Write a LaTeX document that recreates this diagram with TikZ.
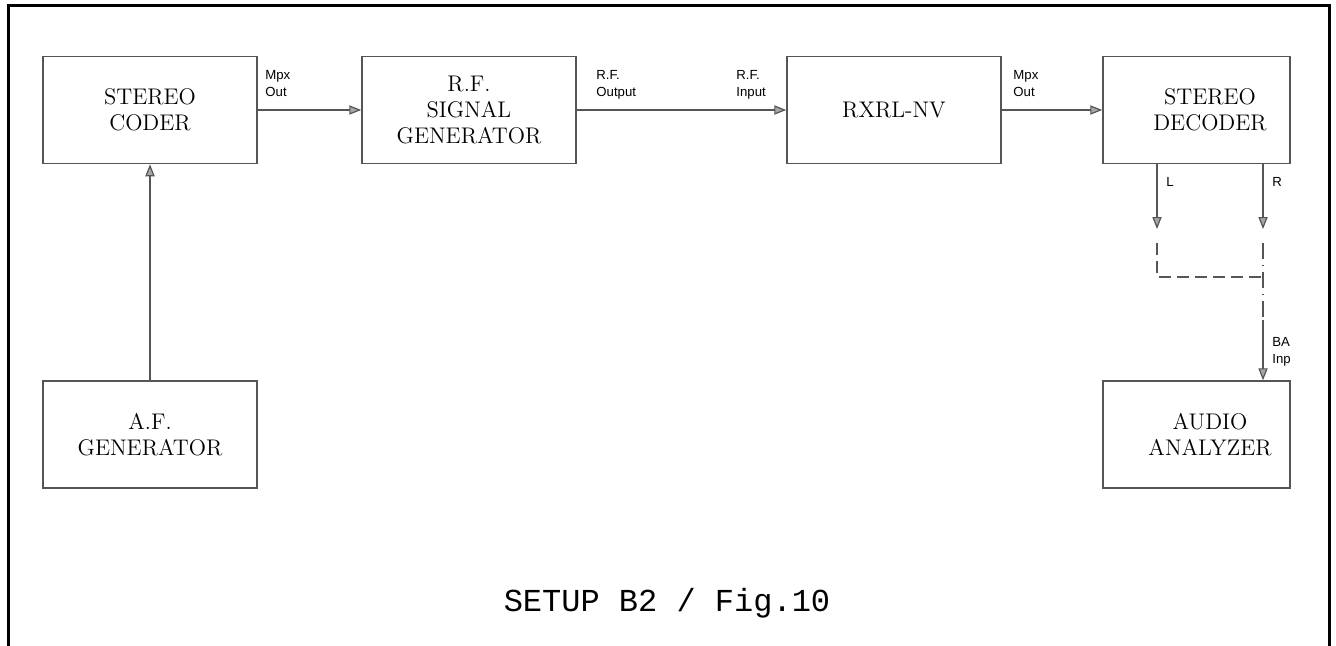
\documentclass[tikz,border=0pt]{standalone}
\usepackage{fontspec}
\newfontfamily\labelfont{Liberation Sans}
\newfontfamily\titlefont{Liberation Mono}
\usetikzlibrary{arrows.meta,positioning,calc}
\definecolor{wiregray}{RGB}{85,85,85}
\begin{document}
\begin{tikzpicture}[x=0.5pt,y=-0.5pt,
 unit/.style={draw=wiregray,line width=0.75pt,minimum width=107pt,minimum height=53.5pt,inner sep=0pt,align=center,font=\fontsize{11.3}{12.8}\selectfont},
 sig/.style={draw=wiregray,line width=0.6pt,-{Triangle[length=6pt,width=4.6pt,fill=gray!70]}},
 wire/.style={draw=wiregray,line width=0.6pt},
 tag/.style={inner sep=0pt,align=left,font=\labelfont\fontsize{6.6}{8.5}\selectfont},
 frame/.style={line width=1.5pt}
]
\useasboundingbox (0,0) rectangle (1336,645);
\draw[frame] (8,660) -- (8,5) -- (1329,5) -- (1329,660);
\node[unit] (coder) at (150,110) {STEREO\\CODER};
\node[unit] (rfgen) at (469,110) {R.F.\\SIGNAL\\GENERATOR};
\node[unit] (rx) at (894,110) {RXRL-NV};
\node[unit] (af) at (150,434.5) {A.F.\\GENERATOR};
\begin{scope}
 \clip (0,0) rectangle (1290.5,645);
 \node[unit] (dec) at (1210,110) {STEREO\\DECODER};
 \node[unit] (ana) at (1210,434.5) {AUDIO\\ANALYZER};
 \node[tag,anchor=north west] (balin) at (1272,337) {BAL\\Input};
\end{scope}
\coordinate (cut) at (1290,0);
\draw[draw=wiregray,line width=0.75pt] (dec.north -| cut) -- (dec.south -| cut);
\draw[draw=wiregray,line width=0.75pt] (ana.north -| cut) -- (ana.south -| cut);
% signal chain
\draw[sig] (coder) -- (rfgen);
\draw[sig] (rfgen) -- (rx);
\draw[sig] (rx) -- (dec);
\draw[sig] (af) -- (coder);
\node[tag,anchor=north west] (mpxa) at (265,70) {Mpx\\Out};
\node[tag,anchor=north west] (rfout) at (596,70) {R.F.\\Output};
\node[tag,anchor=north west] (rfin) at (736,70) {R.F.\\Input};
\node[tag,anchor=north west] (mpxb) at (1013,70) {Mpx\\Out};
% decoder outputs
\coordinate (lend) at (1157,229); \coordinate (rend) at (1263,229);
\draw[sig] (dec.south -| lend) -- (lend);
\draw[sig] (dec.south -| rend) -- (rend);
\node[tag,anchor=north west] (ltag) at (1166,177) {L};
\node[tag,anchor=north west] (rtag) at (1272,177) {R};
\coordinate (lgap) at (1157,243); \coordinate (ljoin) at (1157,277);
\coordinate (rgap) at (1263,243); \coordinate (rjoin) at (1263,277);
\coordinate (rdrop) at (1263,320);
\draw[wire,dash pattern=on 6pt off 3pt] (lgap) -- (ljoin) -- (rjoin);
\draw[wire,dash pattern=on 8pt off 3pt on 0.6pt off 3pt] (rgap) -- (rdrop);
\draw[sig] (rdrop) -- (ana.north -| rdrop);
\node[font=\titlefont\fontsize{16}{16}\selectfont] (title) at (667,603) {SETUP B2 / Fig.10};
\end{tikzpicture}
\end{document}
